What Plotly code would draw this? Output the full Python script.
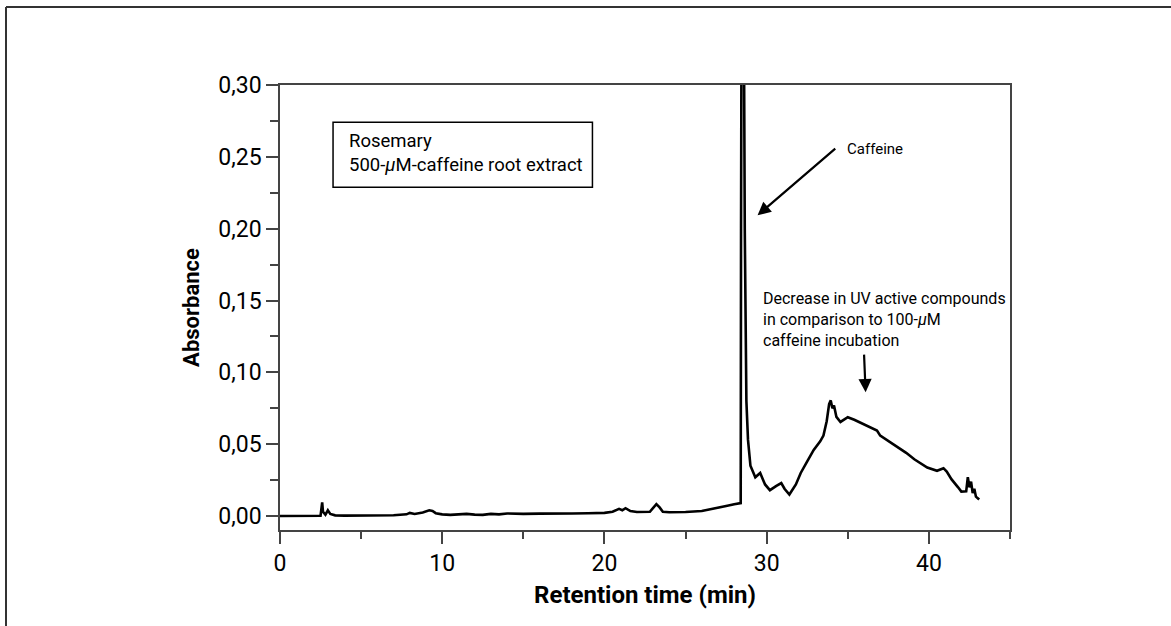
import plotly.graph_objects as go

# Chromatogram trace (retention time in min, absorbance)
retention_time = [
    0.0, 1.0, 2.0, 2.5, 2.6, 2.65, 2.8, 2.95, 3.1, 3.4, 4.0, 5.0, 6.0, 7.0, 7.8,
    8.0, 8.3, 8.8, 9.2, 9.4, 9.6, 10.0, 10.5, 11.0, 11.5, 12.0, 12.5, 13.0, 13.5,
    14.0, 14.5, 15.0, 16.0, 17.0, 18.0, 19.0, 20.0, 20.5, 20.9, 21.1, 21.3, 21.6,
    22.0, 22.8, 23.1, 23.2, 23.4, 23.6, 24.0, 25.0, 26.0, 27.0, 27.5, 28.0, 28.4,
    28.42, 28.5, 28.65, 28.75, 28.85, 29.0, 29.3, 29.6, 29.9, 30.2, 30.6, 30.9,
    31.1, 31.4, 31.8, 32.1, 32.5, 32.9, 33.3, 33.5, 33.7, 33.85, 33.95, 34.05,
    34.15, 34.3, 34.55, 34.8, 35.0, 35.4, 35.8, 36.3, 36.8, 37.0, 37.6, 38.3,
    38.6, 39.1, 39.5, 39.9, 40.5, 40.9, 41.1, 41.4, 41.8, 42.0, 42.3, 42.4, 42.5,
    42.6, 42.7, 42.8, 42.9, 43.1,
]
absorbance = [
    0.0000, 0.0000, 0.0001, 0.0002, 0.0095, 0.0030, 0.0010, 0.0040, 0.0015, 0.0005,
    0.0003, 0.0004, 0.0005, 0.0006, 0.0012, 0.0022, 0.0015, 0.0025, 0.0040, 0.0035,
    0.0020, 0.0012, 0.0008, 0.0012, 0.0015, 0.0010, 0.0008, 0.0015, 0.0012, 0.0018,
    0.0016, 0.0015, 0.0017, 0.0016, 0.0018, 0.0020, 0.0022, 0.0030, 0.0050, 0.0040,
    0.0055, 0.0035, 0.0028, 0.0030, 0.0070, 0.0083, 0.0060, 0.0030, 0.0027, 0.0028,
    0.0035, 0.0055, 0.0070, 0.0082, 0.0090, 0.2000, 0.6000, 0.2000, 0.0800, 0.0530,
    0.0350, 0.0270, 0.0300, 0.0220, 0.0180, 0.0210, 0.0230, 0.0190, 0.0150, 0.0220,
    0.0300, 0.0380, 0.0460, 0.0520, 0.0560, 0.0660, 0.0780, 0.0805, 0.0750, 0.0770,
    0.0690, 0.0655, 0.0670, 0.0688, 0.0670, 0.0650, 0.0625, 0.0595, 0.0560, 0.0515,
    0.0465, 0.0440, 0.0395, 0.0365, 0.0338, 0.0315, 0.0333, 0.0310, 0.0255, 0.0200,
    0.0170, 0.0172, 0.0270, 0.0200, 0.0240, 0.0160, 0.0190, 0.0135, 0.0115,
]

x_tick_vals = [0, 10, 20, 30, 40]
x_tick_text = ["0", "10", "20", "30", "40"]
y_tick_vals = [0.00, 0.05, 0.10, 0.15, 0.20, 0.25, 0.30]
y_tick_text = ["0,00", "0,05", "0,10", "0,15", "0,20", "0,25", "0,30"]

sample_label = "Rosemary<br>500-<i>\u03bc</i>M-caffeine root extract"
peak_label = "Caffeine"
note_label = ("Decrease in UV active compounds<br>"
              "in comparison to 100-<i>\u03bc</i>M<br>"
              "caffeine incubation")

FONT = "Roboto, Liberation Sans, sans-serif"
AXC = "#444444"

fig = go.Figure()
fig.add_trace(go.Scatter(
    x=retention_time, y=absorbance, mode="lines",
    line=dict(color="black", width=2.6), showlegend=False, hoverinfo="skip",
))

W, H = 1171, 626
ML, MR, MT, MB = 280, W - 1010, 85, H - 530

fig.update_layout(
    width=W, height=H,
    margin=dict(l=ML, r=MR, t=MT, b=MB, pad=0),
    paper_bgcolor="white", plot_bgcolor="white",
    font=dict(family=FONT, color="black", size=16),
    separators=", ",
    xaxis=dict(
        range=[0, 45], showgrid=False, zeroline=False,
        showline=True, linecolor=AXC, linewidth=1.6, mirror=True,
        ticks="outside", ticklen=12, tickwidth=1.6, tickcolor=AXC,
        tickvals=x_tick_vals, ticktext=x_tick_text,
        tickfont=dict(size=23, family=FONT),
        minor=dict(ticks="outside", ticklen=7, tickwidth=1.6, tickcolor=AXC, dtick=5, tick0=0),
        title=dict(text="<b>Retention time (min)</b>", font=dict(size=24, family=FONT), standoff=10),
    ),
    yaxis=dict(
        range=[-0.0097, 0.30], showgrid=False, zeroline=False,
        showline=True, linecolor=AXC, linewidth=1.6, mirror=True,
        ticks="outside", ticklen=12, tickwidth=1.6, tickcolor=AXC,
        tickvals=y_tick_vals, ticktext=y_tick_text,
        tickfont=dict(size=23, family=FONT),
        minor=dict(ticks="outside", ticklen=8, tickwidth=1.6, tickcolor=AXC, dtick=0.025, tick0=0),
        title=dict(text="<b>Absorbance</b>", font=dict(size=22, family=FONT), standoff=13),
    ),
)

# outer frame (left and top edges)
pw, ph = 1010 - 280, 530 - 85
def px(x):
    return (x - 280) / pw
def py(y):
    return (530 - y) / ph

fig.add_shape(type="line", xref="paper", yref="paper",
              x0=px(6), x1=px(6), y0=py(7), y1=py(640),
              line=dict(color="#333333", width=2))
fig.add_shape(type="line", xref="paper", yref="paper",
              x0=px(6), x1=px(1180), y0=py(7), y1=py(7),
              line=dict(color="#333333", width=2))

# Sample label box
fig.add_shape(type="rect", xref="x", yref="y",
              x0=3.27, x1=19.26, y0=0.2288, y1=0.2740,
              line=dict(color="black", width=1.5), fillcolor="white", layer="above")
fig.add_annotation(x=4.12, y=0.2528, xref="x", yref="y", text=sample_label,
                   showarrow=False, xanchor="left", yanchor="middle", align="left",
                   font=dict(size=18.5, family=FONT, color="black"))

# Caffeine arrow + label
fig.add_annotation(x=29.44, y=0.2093, ax=34.32, ay=0.2566, xref="x", yref="y",
                   axref="x", ayref="y", text="", showarrow=True,
                   arrowhead=2, arrowsize=1.2, arrowwidth=2.2, arrowcolor="black")
fig.add_annotation(x=34.8, y=0.2552, xref="x", yref="y", text=peak_label,
                   showarrow=False, xanchor="left", yanchor="middle",
                   font=dict(size=15, family=FONT, color="black"))

# Decrease note
fig.add_annotation(x=29.63, y=0.1370, xref="x", yref="y", text=note_label,
                   showarrow=False, xanchor="left", yanchor="middle", align="left",
                   font=dict(size=16, family=FONT, color="black"))
fig.add_annotation(x=36.1, y=0.0862, ax=36.0, ay=0.1134, xref="x", yref="y",
                   axref="x", ayref="y", text="", showarrow=True,
                   arrowhead=2, arrowsize=1.2, arrowwidth=2.2, arrowcolor="black")

fig.write_html("out.html", config={"displayModeBar": False},
               post_script="document.body.style.margin='0';document.body.style.overflow='hidden';")
